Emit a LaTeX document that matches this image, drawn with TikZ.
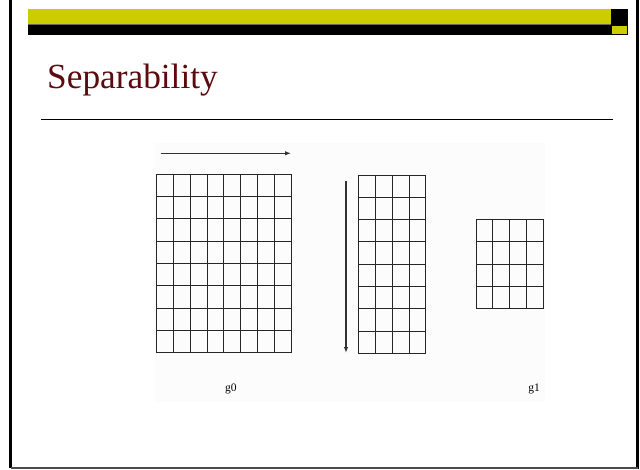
\documentclass[tikz,border=0pt]{standalone}
\usepackage{fontspec}
\setmainfont{Liberation Serif}
\usetikzlibrary{arrows.meta}
\definecolor{baryellow}{RGB}{204,204,0}
\definecolor{titlered}{RGB}{92,10,14}
\definecolor{panel}{RGB}{252,252,252}
\begin{document}
\begin{tikzpicture}[x=1pt,y=-1pt,
  gridline/.style={draw=black!85,line width=1pt},
  gridbox/.style={draw=black!85,line width=1pt,inner sep=0pt,outer sep=0pt},
  flowarrow/.style={draw=black!80,line width=1.1pt,-{Latex[length=6pt,width=4.5pt]}},
  lab/.style={inner sep=0pt,font=\fontsize{11.5}{13}\selectfont}]
\useasboundingbox (0,0) rectangle (640,469);
\fill[white] (0,0) rectangle (640,469);
% frame
\draw[line width=2.6pt] (10.6,-2) -- (10.6,468);
\draw[line width=3.6pt] (637.6,-2) -- (637.6,469);
\draw[black!70,line width=1.4pt] (10.6,468) -- (637.6,468);
% header bar
\fill[baryellow] (28.3,9.3) rectangle (611,24);
\fill[black] (28.3,24) rectangle (611,35.3);
\fill[black] (611,9.3) rectangle (628.3,35.3);
\fill[baryellow] (612.3,25.7) rectangle (627,34);
\draw[black!60,line width=0.6pt] (28.3,24) -- (611,24);
% title
\node[anchor=base west,inner sep=0pt,text=titlered,font=\fontsize{35.3}{40}\selectfont] (title) at (47,88) {Separability};
\draw[line width=1pt] (41,119.3) -- (613,119.3);
% panel background
\fill[panel] (155,143) rectangle (545,402);
% grid g0 : 8x8
\node[gridbox,anchor=north west,minimum width=134.4pt,minimum height=178.4pt] (gridA) at (156.7,174.3) {};
\foreach \i in {1,...,7} {
  \draw[gridline] (156.7+\i*16.8,174.3) -- (156.7+\i*16.8,352.7);
  \draw[gridline] (156.7,174.3+\i*22.3) -- (291.1,174.3+\i*22.3);
}
% grid middle : 4x8
\node[gridbox,anchor=north west,minimum width=67.6pt,minimum height=178.4pt] (gridB) at (358.3,175) {};
\foreach \i in {1,...,3} \draw[gridline] (358.3+\i*16.9,175) -- (358.3+\i*16.9,353.4);
\foreach \i in {1,...,7} \draw[gridline] (358.3,175+\i*22.3) -- (425.9,175+\i*22.3);
% grid g1 : 4x4
\node[gridbox,anchor=north west,minimum width=67.2pt,minimum height=89.2pt] (gridC) at (476,219.4) {};
\foreach \i in {1,...,3} {
  \draw[gridline] (476+\i*16.8,219.4) -- (476+\i*16.8,308.6);
  \draw[gridline] (476,219.4+\i*22.3) -- (543.2,219.4+\i*22.3);
}
% arrows
\coordinate (hA) at (160.7,153.3);
\coordinate (hB) at (291,153.3);
\coordinate (vA) at (346,180.7);
\coordinate (vB) at (346,353);
\draw[flowarrow] (hA) -- (hB);
\draw[flowarrow] (vA) -- (vB);
% labels
\node[lab] (g0) at (230.8,389) {g0};
\node[lab] (g1) at (534,389) {g1};
\end{tikzpicture}
\end{document}
